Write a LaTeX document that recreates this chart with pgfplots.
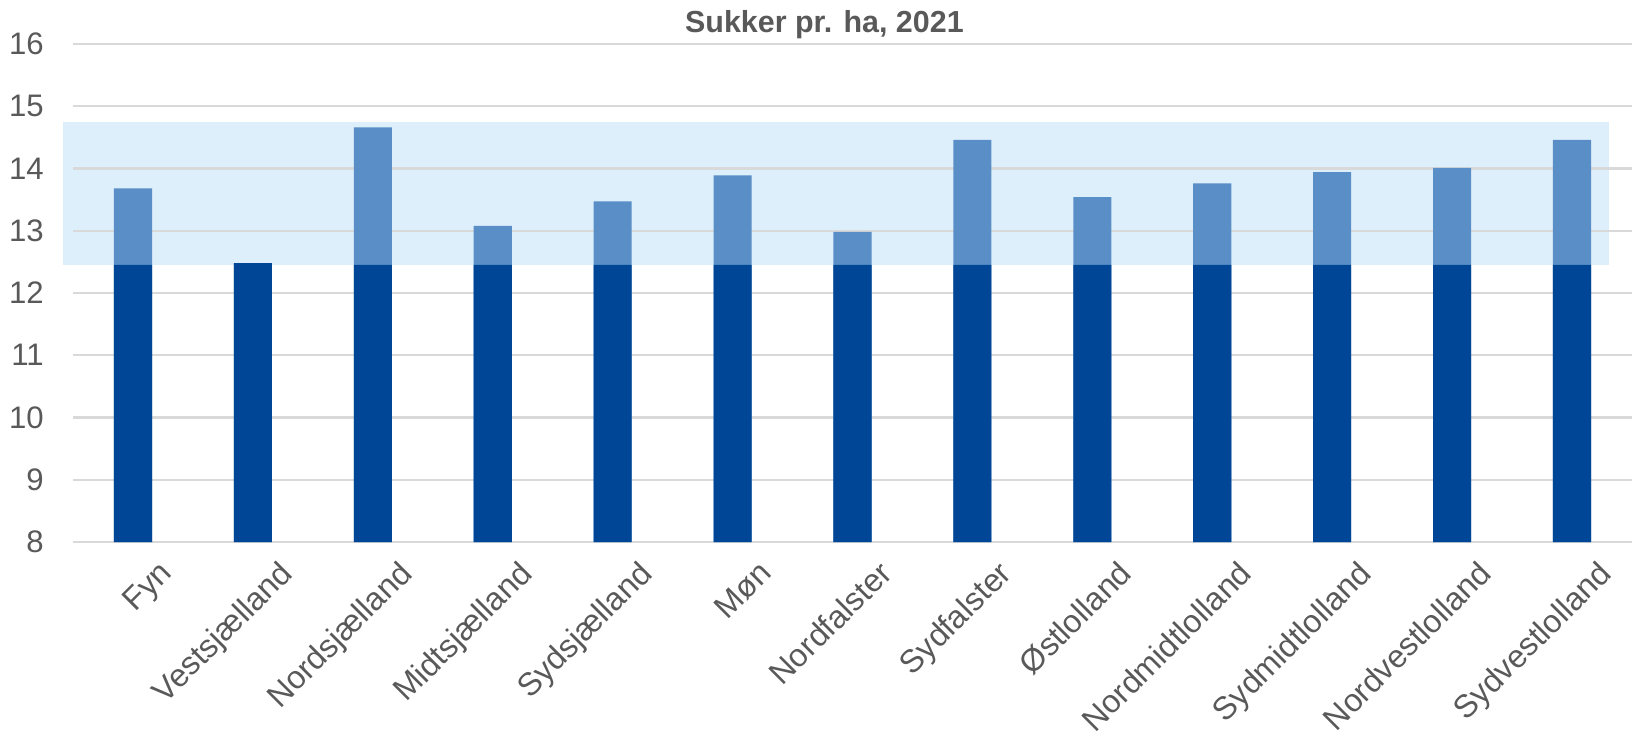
\documentclass[border=0pt]{standalone}
\usepackage{pgfplots}
\pgfplotsset{compat=1.18}
\usepackage{fontspec}
\setmainfont{Liberation Sans}

\definecolor{darkbar}{RGB}{0,70,150}
\definecolor{lightbar}{RGB}{89,143,198}
\definecolor{bandc}{RGB}{221,239,251}
\definecolor{txt}{RGB}{89,89,89}
\definecolor{gridc}{RGB}{217,217,217}

\pgfplotsset{
  common/.style={
    scale only axis,
    width=461pt, height=147.3pt,
    xmin=-0.5, xmax=12.5,
    ymin=8, ymax=16,
  },
}

\begin{document}
\begin{tikzpicture}
% light band behind the bars (its own axis, so it can run a little past the left edge)
\begin{axis}[common, hide axis, clip=false]
  \addplot[draw=none, fill=bandc] coordinates {
    (-0.583,12.45) (12.31,12.45) (12.31,14.74) (-0.583,14.74)
  } -- cycle;
\end{axis}

\begin{axis}[
    common,
    axis line style={draw=none},
    major tick length=0pt,
    ymajorgrids=true,
    grid style={gridc, line width=0.7pt},
    ytick={8,9,...,16},
    xtick={0,...,12},
    xticklabels={Fyn, Vestsjælland, Nordsjælland, Midtsjælland, Sydsjælland,
      Møn, Nordfalster, Sydfalster, Østlolland, Nordmidtlolland,
      Sydmidtlolland, Nordvestlolland, Sydvestlolland},
    tick label style={txt},
    yticklabel style={font=\fontsize{9.2}{11}\selectfont, anchor=east, inner sep=0pt, xshift=-8.5pt},
    xticklabel style={font=\fontsize{9.5}{11}\selectfont, rotate=45, anchor=north east, inner sep=0pt, yshift=-8.5pt, xshift=1.8pt},
    /pgf/number format/assume math mode=true,
]
  \coordinate (ll) at (rel axis cs:0,0);
  \coordinate (ur) at (rel axis cs:1,1);
  \coordinate (tt) at (rel axis cs:0.482,1);
  % total sugar per ha
  \addplot[ybar, bar width=0.317, bar shift=0pt, fill=lightbar, draw=none] coordinates {
    (0,13.68) (1,12.48) (2,14.66) (3,13.08) (4,13.47) (5,13.89) (6,12.98)
    (7,14.46) (8,13.54) (9,13.76) (10,13.94) (11,14.01) (12,14.46)
  };
  % lower part up to the band
  \addplot[ybar, bar width=0.317, bar shift=0pt, fill=darkbar, draw=none] coordinates {
    (0,12.45) (1,12.48) (2,12.45) (3,12.45) (4,12.45) (5,12.45) (6,12.45)
    (7,12.45) (8,12.45) (9,12.45) (10,12.45) (11,12.45) (12,12.45)
  };
\end{axis}
\node[font=\fontsize{9}{11}\selectfont\bfseries, text=txt, anchor=base, inner sep=0pt, yshift=3.3pt]
  at (tt) {Sukker pr. ha, 2021};
\pgfresetboundingbox
\path ([xshift=-21.6pt, yshift=-57.4pt]ll) rectangle ([xshift=1.2pt, yshift=13pt]ur);
\end{tikzpicture}
\end{document}
